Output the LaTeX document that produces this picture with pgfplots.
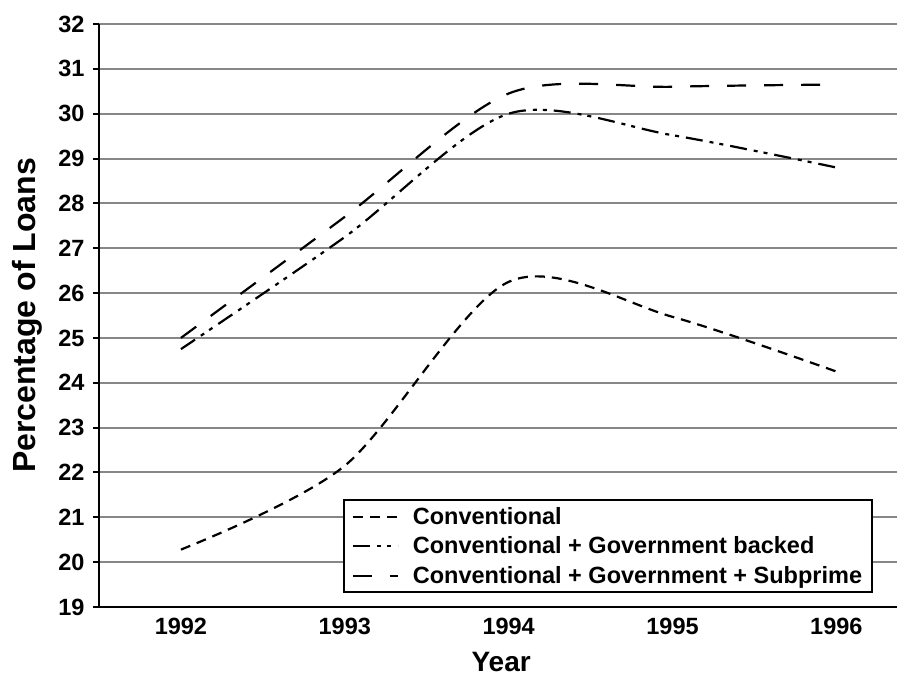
\documentclass[border=0pt]{standalone}
\usepackage{fontspec}
\setmainfont{Liberation Sans}
\usepackage{pgfplots}
\pgfplotsset{compat=1.18}
\definecolor{gridgray}{HTML}{878787}
\begin{document}
\begin{tikzpicture}
\begin{axis}[name=ax, scale only axis, width=798pt, height=583pt,
  xmin=-0.5, xmax=4.37, ymin=19, ymax=32,
  xtick={0,1,2,3,4}, xticklabels={1992,1993,1994,1995,1996},
  ytick={19,20,...,32},
  axis x line*=bottom, axis y line*=left,
  x axis line style={-, line width=2.2pt},
  y axis line style={-, line width=2.2pt},
  ymajorgrids, grid style={gridgray, line width=2pt},
  xtick style={draw=none},
  ytick style={black, line width=2pt},
  tick align=outside, major tick length=6pt,
  /pgf/number format/assume math mode=true,
  ticklabel style={font=\fontsize{23.5}{27}\selectfont\bfseries},
  yticklabel style={xshift=-5pt},
  xticklabel style={yshift=-2pt},
  xlabel={Year}, ylabel={Percentage of Loans},
  every axis x label/.style={at={(axis description cs:0.504,-0.094)}, anchor=center, font=\fontsize{28}{33}\selectfont\bfseries},
  every axis y label/.style={at={(axis description cs:-0.0902,0.5)}, rotate=90, anchor=center, font=\fontsize{32}{38}\selectfont\bfseries},
  legend style={at={(0.970,0.024)}, anchor=south east, draw=black, line width=2pt,
    font=\fontsize{23.5}{27}\selectfont\bfseries, inner xsep=8pt, inner ysep=5pt,
    row sep=7pt, /tikz/every odd column/.append style={column sep=12pt}},
  legend cell align=left,
  legend image code/.code={\draw[#1] (0pt,0pt) -- (45pt,0pt);},
]
\addplot[black, line width=2.2pt, smooth, dash pattern=on 10pt off 7pt]
  coordinates {(0,20.28) (1,22.15) (2,26.25) (3,25.47) (4,24.25)};
\addlegendentry{Conventional}
\addplot[black, line width=2.2pt, smooth, dash pattern=on 17pt off 7pt on 4pt off 6pt on 4pt off 7pt]
  coordinates {(0,24.75) (1,27.25) (2,30.0) (3,29.52) (4,28.8)};
\addlegendentry{Conventional + Government backed}
\addplot[black, line width=2.2pt, smooth, dash pattern=on 19pt off 18pt]
  coordinates {(0,25.0) (1,27.7) (2,30.45) (3,30.6) (4,30.65)};
\addlegendentry{Conventional + Government + Subprime}
\end{axis}
\pgfresetboundingbox
\path ([shift={(-99pt,-70pt)}]ax.south west) rectangle ([shift={(12pt,24pt)}]ax.north east);
\end{tikzpicture}
\end{document}
